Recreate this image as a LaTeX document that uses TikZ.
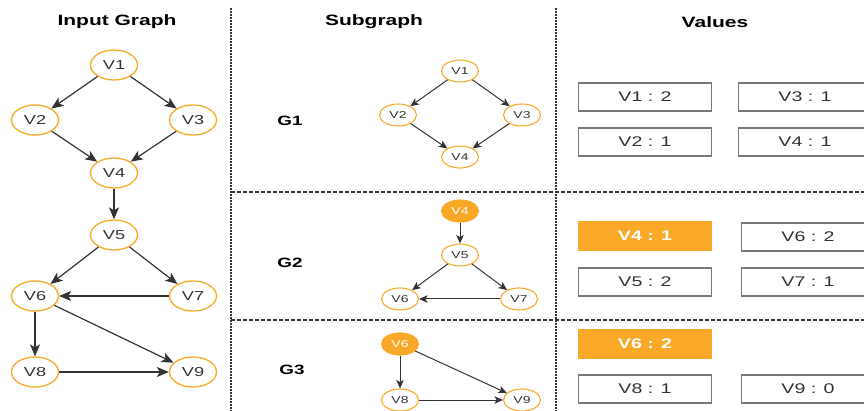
\documentclass[tikz,border=0pt]{standalone}
\usepackage{fontspec}
\setmainfont{Liberation Sans}
\newfontfamily\widesans[FakeStretch=1.4]{Liberation Sans}
\usetikzlibrary{shapes.geometric,arrows.meta}
\definecolor{vorange}{RGB}{250,168,40}
\definecolor{ink}{RGB}{51,51,51}
\definecolor{boxgray}{RGB}{120,120,120}

\begin{document}
\begin{tikzpicture}[x=1pt,y=-1pt,
  big/.style={ellipse,draw=vorange,line width=1.3pt,minimum width=47pt,minimum height=30pt,
    inner sep=0pt,font=\widesans\fontsize{13}{13}\selectfont,text=ink},
  small/.style={ellipse,draw=vorange,line width=1.1pt,minimum width=37pt,minimum height=22pt,
    inner sep=0pt,font=\widesans\fontsize{10}{10}\selectfont,text=ink},
  hot/.style={small,fill=vorange,text=white},
  link/.style={draw=ink,line width=1.2pt,-{Stealth[length=12pt,width=10pt,inset=3pt]}},
  slink/.style={draw=ink,line width=1pt,-{Stealth[length=8.5pt,width=7.5pt,inset=2.2pt]}},
  val/.style={rectangle,draw=boxgray,line width=1.2pt,minimum width=133pt,minimum height=28pt,
    inner sep=0pt,font=\widesans\fontsize{14}{14}\selectfont,text=ink},
  valhot/.style={val,draw=vorange,fill=vorange,text=white,font=\widesans\bfseries\fontsize{14}{14}\selectfont},
  title/.style={font=\widesans\bfseries\fontsize{15}{15}\selectfont,text=black},
  glabel/.style={font=\widesans\bfseries\fontsize{13.5}{13.5}\selectfont,text=black},
  vsep/.style={draw=ink,line width=1.8pt,dash pattern=on 1.6pt off 1.4pt},
  hsep/.style={draw=ink,line width=1.3pt,dash pattern=on 3.5pt off 2.5pt}]

\useasboundingbox (0,0) rectangle (864,411);
\clip (0,0) rectangle (864,411);

% column separators
\draw[vsep] (231,8) -- (231,411);
\draw[vsep] (556,8) -- (556,411);
\draw[hsep] (231,192) -- (864,192);
\draw[hsep] (231,320) -- (864,320);

% headings
\node[title] (tin) at (117,22) {Input Graph};
\node[title] (tsub) at (374,22) {Subgraph};
\node[title] (tval) at (715,22) {Values};

% input graph
\node[big] (i1) at (114,65) {V1};
\node[big] (i2) at (35,120) {V2};
\node[big] (i3) at (193,120) {V3};
\node[big] (i4) at (114,173) {V4};
\node[big] (i5) at (114,235) {V5};
\node[big] (i6) at (35,296) {V6};
\node[big] (i7) at (193,296) {V7};
\node[big] (i8) at (35,372) {V8};
\node[big] (i9) at (193,372) {V9};
\draw[link] (i1) -- (i2);
\draw[link] (i1) -- (i3);
\draw[link] (i2) -- (i4);
\draw[link] (i3) -- (i4);
\draw[link] (i4) -- (i5);
\draw[link] (i5) -- (i6);
\draw[link] (i5) -- (i7);
\draw[link] (i7) -- (i6);
\draw[link] (i6) -- (i8);
\draw[link] (i6) -- (i9);
\draw[link] (i8) -- (i9);

% subgraph G1
\node[glabel] (g1) at (290,121) {G1};
\node[small] (a1) at (460,71) {V1};
\node[small] (a2) at (398,115) {V2};
\node[small] (a3) at (522,115) {V3};
\node[small] (a4) at (460,157) {V4};
\draw[slink] (a1) -- (a2);
\draw[slink] (a1) -- (a3);
\draw[slink] (a2) -- (a4);
\draw[slink] (a3) -- (a4);

% subgraph G2
\node[glabel] (g2) at (290,263) {G2};
\node[hot] (b4) at (460,211) {V4};
\node[small] (b5) at (460,255) {V5};
\node[small] (b6) at (400,299) {V6};
\node[small] (b7) at (519,299) {V7};
\draw[slink] (b4) -- (b5);
\draw[slink] (b5) -- (b6);
\draw[slink] (b5) -- (b7);
\draw[slink] (b7) -- (b6);

% subgraph G3
\node[glabel] (g3) at (292,370) {G3};
\node[hot] (c6) at (400,344) {V6};
\node[small] (c8) at (400,400) {V8};
\node[small] (c9) at (522,400) {V9};
\draw[slink] (c6) -- (c8);
\draw[slink] (c6) -- (c9);
\draw[slink] (c8) -- (c9);

% values
\node[val] (v1) at (645,97) {V1 : 2};
\node[val] (v3) at (805,97) {V3 : 1};
\node[val] (v2) at (645,142) {V2 : 1};
\node[val] (v4) at (805,142) {V4 : 1};
\node[valhot] (w4) at (645,236) {V4 : 1};
\node[val] (w6) at (808,237) {V6 : 2};
\node[val] (w5) at (645,282) {V5 : 2};
\node[val] (w7) at (808,282) {V7 : 1};
\node[valhot] (x6) at (645,344) {V6 : 2};
\node[val] (x8) at (645,389) {V8 : 1};
\node[val] (x9) at (808,389) {V9 : 0};
\end{tikzpicture}
\end{document}
